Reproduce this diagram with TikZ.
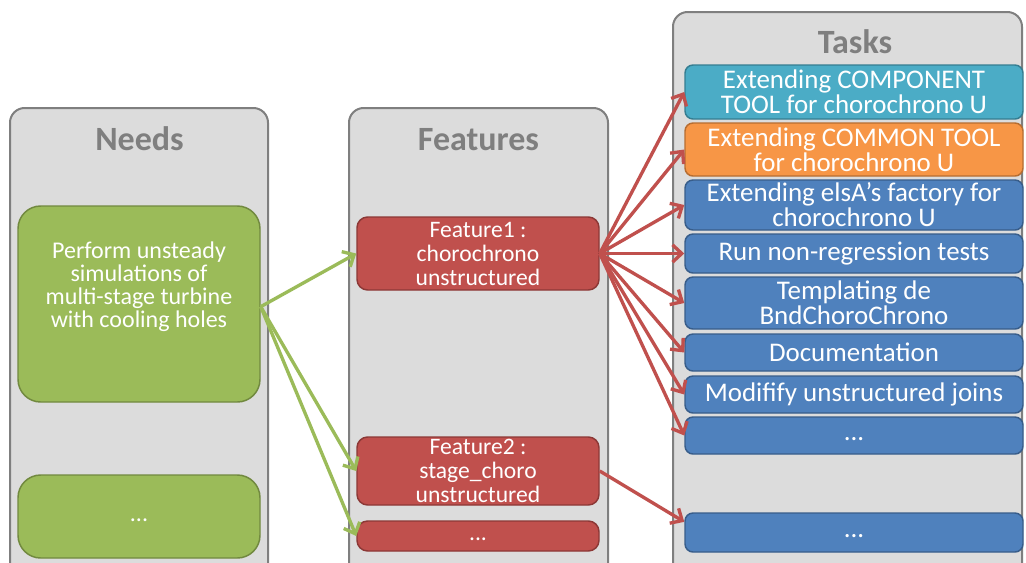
\documentclass[tikz,border=0pt]{standalone}
\usepackage{fontspec}
\setmainfont{Carlito}
\usetikzlibrary{arrows.meta}
\definecolor{panelfill}{HTML}{DCDCDC}
\definecolor{panelline}{HTML}{7F7F7F}
\definecolor{titlegray}{HTML}{7F7F7F}
\definecolor{gfill}{HTML}{9BBB59}
\definecolor{gline}{HTML}{71893F}
\definecolor{rfill}{HTML}{C0504D}
\definecolor{rline}{HTML}{8C3836}
\definecolor{bfill}{HTML}{4F81BD}
\definecolor{bline}{HTML}{385D8A}
\definecolor{cfill}{HTML}{4BACC6}
\definecolor{cline}{HTML}{357D91}
\definecolor{ofill}{HTML}{F79646}
\definecolor{oline}{HTML}{B66D31}
\begin{document}
\begin{tikzpicture}[x=0.75pt,y=-0.75pt,
  panel/.style={draw=panelline, line width=1.5pt, fill=panelfill, rounded corners=11pt, inner sep=0pt},
  title/.style={text=titlegray, font=\bfseries\fontsize{25.5}{30}\selectfont, anchor=base, inner sep=0pt},
  box/.style={line width=1.1pt, rounded corners=6pt, text=white, align=center, inner sep=0pt},
  needbox/.style={box, fill=gfill, draw=gline, rounded corners=17pt, minimum width=181.5pt, font=\fontsize{18}{17.25}\selectfont},
  needtext/.style={text=white, align=center, inner sep=0pt, font=\fontsize{18}{17.25}\selectfont},
  featbox/.style={box, fill=rfill, draw=rline, rounded corners=8pt, minimum width=181.5pt, font=\fontsize{17.7}{18}\selectfont},
  taskbox/.style={box, draw=bline, fill=bfill, minimum width=253.5pt, font=\fontsize{20.2}{18.75}\selectfont},
  garrow/.style={draw=gfill, line width=2.5pt, -{Straight Barb[length=7pt,width=13pt]}},
  rarrow/.style={draw=rfill, line width=2.5pt, -{Straight Barb[length=7pt,width=13pt]}}
]
\useasboundingbox (0,0) rectangle (1026,562);
\fill[white] (0,0) rectangle (1026,562);
\clip (0,0) rectangle (1026,562);

% panels
\node[panel, minimum width=193.5pt, minimum height=399pt] (needsP) at (139,374) {};
\node[panel, minimum width=194.25pt, minimum height=399pt] (featP) at (478.5,374) {};
\node[panel, minimum width=261.75pt, minimum height=471pt] (taskP) at (847.5,326) {};

% titles
\node[title] (needsT) at (139.5,150) {Needs};
\node[title] (featT) at (478.5,150) {Features};
\node[title] (taskT) at (855,53) {Tasks};

% needs
\node[needbox, minimum height=147pt] (g1) at (139,304) {};
\node[needtext] (g1t) at (139,287) {Perform unsteady\\simulations of\\multi-stage turbine\\with cooling holes};
\node[needbox, minimum height=62.25pt] (g2) at (139,516.5) {\strut...};

% features
\node[featbox, minimum height=54.75pt] (f1) at (478,253.5) {Feature1 :\\chorochrono\\unstructured};
\node[featbox, minimum height=51pt] (f2) at (478,471) {Feature2 :\\stage\_choro\\unstructured};
\node[featbox, minimum height=22.5pt] (f3) at (478,536) {\strut...};

% tasks
\node[taskbox, fill=cfill, draw=cline, minimum height=40.5pt] (t1) at (854,92) {Extending COMPONENT\\TOOL for chorochrono U};
\node[taskbox, fill=ofill, draw=oline, minimum height=39.75pt] (t2) at (854,149.5) {Extending COMMON TOOL\\for chorochrono U};
\node[taskbox, minimum height=37.5pt] (t3) at (854,205) {Extending elsA’s factory for\\chorochrono U};
\node[taskbox, minimum height=29.25pt] (t4) at (854,253.5) {Run non-regression tests};
\node[taskbox, minimum height=39pt] (t5) at (854,303) {Templating de\\BndChoroChrono};
\node[taskbox, minimum height=27.75pt] (t6) at (854,352.5) {Documentation};
\node[taskbox, minimum height=27.75pt] (t7) at (854,394.5) {Modifify unstructured joins};
\node[taskbox, minimum height=27.75pt] (t8) at (854,435.5) {\strut...};
\node[taskbox, minimum height=29.25pt] (t9) at (854,532.5) {\strut...};

% green arrows
\draw[garrow] ([yshift=-2pt]g1.east) -- (f1.west);
\draw[garrow] ([yshift=-2pt]g1.east) -- (f2.west);
\draw[garrow] ([yshift=-2pt]g1.east) -- (f3.west);

% red arrows
\foreach \t in {t1,t2,t3,t4,t5,t6,t7,t8}{
  \draw[rarrow] (f1.east) -- (\t.west);
}
\draw[rarrow] (f2.east) -- ([yshift=8pt]t9.west);
\end{tikzpicture}
\end{document}
